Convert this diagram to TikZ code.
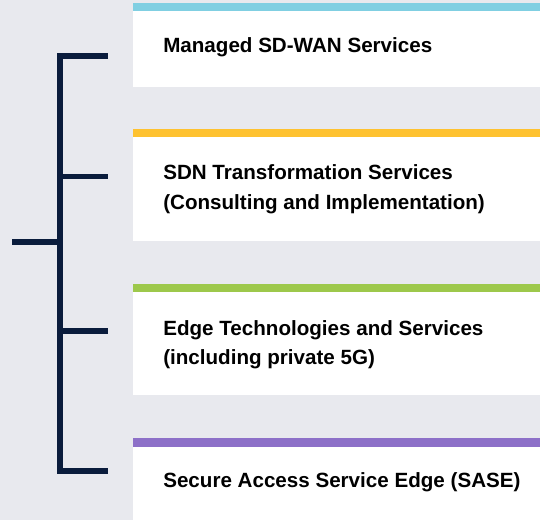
\documentclass[tikz,border=0pt]{standalone}
\usepackage{fontspec}
\setmainfont{Liberation Sans}
\definecolor{bg}{HTML}{E8E9EE}
\definecolor{navy}{HTML}{0A1C3C}
\definecolor{barblue}{HTML}{80CFE2}
\definecolor{baryellow}{HTML}{FEC230}
\definecolor{bargreen}{HTML}{9DC84B}
\definecolor{barpurple}{HTML}{8D70C8}
\tikzset{
  card/.style={fill=white, draw=none},
  label/.style={anchor=base west, inner sep=0pt, align=left, font=\bfseries\fontsize{15.45pt}{22pt}\selectfont, text=black},
  bracket/.style={draw=navy, line width=4.1pt, line join=miter, line cap=butt},
}
\begin{document}
\begin{tikzpicture}[x=0.75pt, y=-0.75pt]
\useasboundingbox (0,0) rectangle (540,520);
\fill[bg] (0,0) rectangle (540,520);
% cards
\fill[card] (133,3) rectangle (540,87);
\fill[barblue] (133,3) rectangle (540,11.5);
\fill[card] (133,129) rectangle (540,240.7);
\fill[baryellow] (133,129) rectangle (540,136.7);
\fill[card] (133,284) rectangle (540,395.3);
\fill[bargreen] (133,284) rectangle (540,291.7);
\fill[card] (133,438.3) rectangle (540,520);
\fill[barpurple] (133,438.3) rectangle (540,446.7);
% labels (multi-line nodes are placed by the baseline of their last line)
\node[label] (t1) at (163,52.7) {Managed SD-WAN Services};
\node[label] (t2) at (163,209.3) {SDN Transformation Services\\(Consulting and Implementation)};
\node[label] (t3) at (163,365) {Edge Technologies and Services\\(including private 5G)};
\node[label] (t4) at (163,487.7) {Secure Access Service Edge (SASE)};
% bracket
\coordinate (b1) at (108,56);
\coordinate (c1) at (60,56);
\coordinate (b2) at (108,176.7);
\coordinate (c2) at (60,176.7);
\coordinate (b3) at (108,331);
\coordinate (c3) at (60,331);
\coordinate (b4) at (108,471);
\coordinate (c4) at (60,471);
\coordinate (m0) at (12,242);
\coordinate (mc) at (60,242);
\draw[bracket] (b1) -- (c1) -- (c4) -- (b4);
\draw[bracket] (c2) -- (b2);
\draw[bracket] (c3) -- (b3);
\draw[bracket] (m0) -- (mc);
\end{tikzpicture}
\end{document}
